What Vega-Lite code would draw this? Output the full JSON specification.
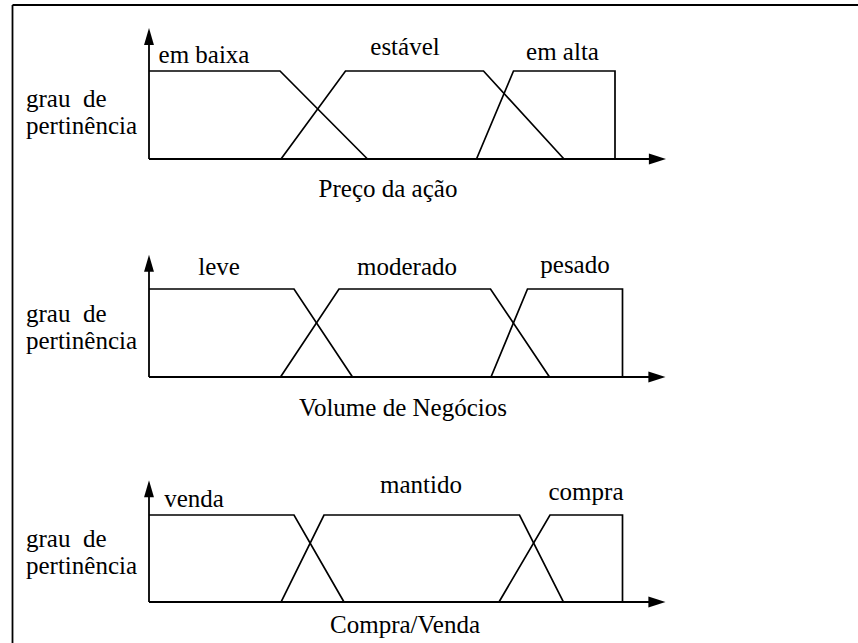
{
  "$schema": "https://vega.github.io/schema/vega-lite/v6.json",
  "padding": 0,
  "spacing": 0,
  "bounds": "flush",
  "background": "white",
  "config": {"view": {"stroke": null}, "concat": {"spacing": 0}},
  "datasets": {
    "mf": [
      {"panel": 1, "set": "em baixa", "i": 0, "x": 0, "mu": 1},
      {"panel": 1, "set": "em baixa", "i": 1, "x": 26.2, "mu": 1},
      {"panel": 1, "set": "em baixa", "i": 2, "x": 43.7, "mu": 0},
      {"panel": 1, "set": "estável", "i": 0, "x": 26.4, "mu": 0},
      {"panel": 1, "set": "estável", "i": 1, "x": 39.3, "mu": 1},
      {"panel": 1, "set": "estável", "i": 2, "x": 66.9, "mu": 1},
      {"panel": 1, "set": "estável", "i": 3, "x": 83, "mu": 0},
      {"panel": 1, "set": "em alta", "i": 0, "x": 65.5, "mu": 0},
      {"panel": 1, "set": "em alta", "i": 1, "x": 72.9, "mu": 1},
      {"panel": 1, "set": "em alta", "i": 2, "x": 93.2, "mu": 1},
      {"panel": 1, "set": "em alta", "i": 3, "x": 93.2, "mu": 0},
      {"panel": 2, "set": "leve", "i": 0, "x": 0, "mu": 1},
      {"panel": 2, "set": "leve", "i": 1, "x": 29, "mu": 1},
      {"panel": 2, "set": "leve", "i": 2, "x": 40.7, "mu": 0},
      {"panel": 2, "set": "moderado", "i": 0, "x": 26.3, "mu": 0},
      {"panel": 2, "set": "moderado", "i": 1, "x": 38, "mu": 1},
      {"panel": 2, "set": "moderado", "i": 2, "x": 68.3, "mu": 1},
      {"panel": 2, "set": "moderado", "i": 3, "x": 80.1, "mu": 0},
      {"panel": 2, "set": "pesado", "i": 0, "x": 68.4, "mu": 0},
      {"panel": 2, "set": "pesado", "i": 1, "x": 75.7, "mu": 1},
      {"panel": 2, "set": "pesado", "i": 2, "x": 94.7, "mu": 1},
      {"panel": 2, "set": "pesado", "i": 3, "x": 94.7, "mu": 0},
      {"panel": 3, "set": "venda", "i": 0, "x": 0, "mu": 1},
      {"panel": 3, "set": "venda", "i": 1, "x": 29, "mu": 1},
      {"panel": 3, "set": "venda", "i": 2, "x": 39, "mu": 0},
      {"panel": 3, "set": "mantido", "i": 0, "x": 26.4, "mu": 0},
      {"panel": 3, "set": "mantido", "i": 1, "x": 35, "mu": 1},
      {"panel": 3, "set": "mantido", "i": 2, "x": 74.1, "mu": 1},
      {"panel": 3, "set": "mantido", "i": 3, "x": 82.9, "mu": 0},
      {"panel": 3, "set": "compra", "i": 0, "x": 70, "mu": 0},
      {"panel": 3, "set": "compra", "i": 1, "x": 80.2, "mu": 1},
      {"panel": 3, "set": "compra", "i": 2, "x": 94.7, "mu": 1},
      {"panel": 3, "set": "compra", "i": 3, "x": 94.7, "mu": 0}
    ],
    "segs": [
      {"panel": 1, "x": 0, "mu": 0, "x2": 100, "mu2": 0},
      {"panel": 1, "x": 0, "mu": 0, "x2": 0, "mu2": 1.42},
      {"panel": 1, "x": -27.3, "mu": 1.75, "x2": -27.3, "mu2": -0.693},
      {"panel": 1, "x": -27.3, "mu": 1.75, "x2": 141.8, "mu2": 1.75},
      {"panel": 2, "x": 0, "mu": 0, "x2": 100, "mu2": 0},
      {"panel": 2, "x": 0, "mu": 0, "x2": 0, "mu2": 1.32},
      {"panel": 2, "x": -27.3, "mu": 1.784, "x2": -27.3, "mu2": -0.716},
      {"panel": 3, "x": 0, "mu": 0, "x2": 100, "mu2": 0},
      {"panel": 3, "x": 0, "mu": 0, "x2": 0, "mu2": 1.33},
      {"panel": 3, "x": -27.3, "mu": 1.862, "x2": -27.3, "mu2": -0.471}
    ],
    "arrows": [
      {"panel": 1, "dir": "right", "x": 103.4, "mu": 0},
      {"panel": 1, "dir": "up", "x": 0, "mu": 1.49},
      {"panel": 2, "dir": "right", "x": 103.3, "mu": 0},
      {"panel": 2, "dir": "up", "x": 0, "mu": 1.39},
      {"panel": 3, "dir": "right", "x": 103.3, "mu": 0},
      {"panel": 3, "dir": "up", "x": 0, "mu": 1.4}
    ],
    "labels": [
      {"panel": 1, "kind": "center", "text": "em baixa", "x": 11, "mu": 1.09},
      {"panel": 1, "kind": "center", "text": "estável", "x": 51.2, "mu": 1.18},
      {"panel": 1, "kind": "center", "text": "em alta", "x": 82.7, "mu": 1.125},
      {"panel": 1, "kind": "center", "text": "Preço da ação", "x": 47.8, "mu": -0.43},
      {"panel": 1, "kind": "left", "text": "grau\u00a0\u00a0de", "x": -24.6, "mu": 0.595},
      {"panel": 1, "kind": "left", "text": "pertinência", "x": -24.6, "mu": 0.285},
      {"panel": 2, "kind": "center", "text": "leve", "x": 14, "mu": 1.16},
      {"panel": 2, "kind": "center", "text": "moderado", "x": 51.6, "mu": 1.16},
      {"panel": 2, "kind": "center", "text": "pesado", "x": 85.2, "mu": 1.18},
      {"panel": 2, "kind": "center", "text": "Volume de Negócios", "x": 50.8, "mu": -0.44},
      {"panel": 2, "kind": "left", "text": "grau\u00a0\u00a0de", "x": -24.6, "mu": 0.625},
      {"panel": 2, "kind": "left", "text": "pertinência", "x": -24.6, "mu": 0.318},
      {"panel": 3, "kind": "center", "text": "venda", "x": 9, "mu": 1.09},
      {"panel": 3, "kind": "center", "text": "mantido", "x": 54.4, "mu": 1.25},
      {"panel": 3, "kind": "center", "text": "compra", "x": 87.4, "mu": 1.17},
      {"panel": 3, "kind": "center", "text": "Compra/Venda", "x": 51.2, "mu": -0.355},
      {"panel": 3, "kind": "left", "text": "grau\u00a0\u00a0de", "x": -24.6, "mu": 0.632},
      {"panel": 3, "kind": "left", "text": "pertinência", "x": -24.6, "mu": 0.322}
    ]
  },
  "vconcat": [
    {
      "width": 858, "height": 220,
      "encoding": {
        "x": {"field": "x", "type": "quantitative", "axis": null, "scale": {"domain": [-29.8, 141.8], "nice": false, "zero": false}},
        "y": {"field": "mu", "type": "quantitative", "axis": null, "scale": {"domain": [-0.693, 1.807], "nice": false, "zero": false}}
      },
      "layer": [
        {"data": {"name": "segs"}, "transform": [{"filter": "datum.panel == 1"}],
         "mark": {"type": "rule", "color": "black", "strokeWidth": 1.8},
         "encoding": {"x2": {"field": "x2"}, "y2": {"field": "mu2"}}},
        {"data": {"name": "mf"}, "transform": [{"filter": "datum.panel == 1"}],
         "mark": {"type": "line", "color": "black", "strokeWidth": 1.7},
         "encoding": {"detail": {"field": "set"}, "order": {"field": "i", "type": "quantitative"}}},
        {"data": {"name": "arrows"}, "transform": [{"filter": "datum.panel == 1"}],
         "mark": {"type": "point", "filled": true, "color": "black", "opacity": 1, "size": 324},
         "encoding": {"shape": {"field": "dir", "legend": null, "scale": {"domain": ["up", "right"], "range": ["M0,0L0.55,1.9L-0.55,1.9Z", "M0,0L-1.9,-0.6L-1.9,0.6Z"]}}}},
        {"data": {"name": "labels"}, "transform": [{"filter": "datum.panel == 1 && datum.kind == 'center'"}],
         "mark": {"type": "text", "font": "Liberation Serif", "fontSize": 25, "align": "center", "baseline": "alphabetic", "color": "black"},
         "encoding": {"text": {"field": "text"}}},
        {"data": {"name": "labels"}, "transform": [{"filter": "datum.panel == 1 && datum.kind == 'left'"}],
         "mark": {"type": "text", "font": "Liberation Serif", "fontSize": 25, "align": "left", "baseline": "alphabetic", "color": "black"},
         "encoding": {"text": {"field": "text"}}}
      ]
    },
    {
      "width": 858, "height": 220,
      "encoding": {
        "x": {"field": "x", "type": "quantitative", "axis": null, "scale": {"domain": [-29.8, 141.8], "nice": false, "zero": false}},
        "y": {"field": "mu", "type": "quantitative", "axis": null, "scale": {"domain": [-0.716, 1.784], "nice": false, "zero": false}}
      },
      "layer": [
        {"data": {"name": "segs"}, "transform": [{"filter": "datum.panel == 2"}],
         "mark": {"type": "rule", "color": "black", "strokeWidth": 1.8},
         "encoding": {"x2": {"field": "x2"}, "y2": {"field": "mu2"}}},
        {"data": {"name": "mf"}, "transform": [{"filter": "datum.panel == 2"}],
         "mark": {"type": "line", "color": "black", "strokeWidth": 1.7},
         "encoding": {"detail": {"field": "set"}, "order": {"field": "i", "type": "quantitative"}}},
        {"data": {"name": "arrows"}, "transform": [{"filter": "datum.panel == 2"}],
         "mark": {"type": "point", "filled": true, "color": "black", "opacity": 1, "size": 324},
         "encoding": {"shape": {"field": "dir", "legend": null, "scale": {"domain": ["up", "right"], "range": ["M0,0L0.55,1.9L-0.55,1.9Z", "M0,0L-1.9,-0.6L-1.9,0.6Z"]}}}},
        {"data": {"name": "labels"}, "transform": [{"filter": "datum.panel == 2 && datum.kind == 'center'"}],
         "mark": {"type": "text", "font": "Liberation Serif", "fontSize": 25, "align": "center", "baseline": "alphabetic", "color": "black"},
         "encoding": {"text": {"field": "text"}}},
        {"data": {"name": "labels"}, "transform": [{"filter": "datum.panel == 2 && datum.kind == 'left'"}],
         "mark": {"type": "text", "font": "Liberation Serif", "fontSize": 25, "align": "left", "baseline": "alphabetic", "color": "black"},
         "encoding": {"text": {"field": "text"}}}
      ]
    },
    {
      "width": 858, "height": 203,
      "encoding": {
        "x": {"field": "x", "type": "quantitative", "axis": null, "scale": {"domain": [-29.8, 141.8], "nice": false, "zero": false}},
        "y": {"field": "mu", "type": "quantitative", "axis": null, "scale": {"domain": [-0.471, 1.862], "nice": false, "zero": false}}
      },
      "layer": [
        {"data": {"name": "segs"}, "transform": [{"filter": "datum.panel == 3"}],
         "mark": {"type": "rule", "color": "black", "strokeWidth": 1.8},
         "encoding": {"x2": {"field": "x2"}, "y2": {"field": "mu2"}}},
        {"data": {"name": "mf"}, "transform": [{"filter": "datum.panel == 3"}],
         "mark": {"type": "line", "color": "black", "strokeWidth": 1.7},
         "encoding": {"detail": {"field": "set"}, "order": {"field": "i", "type": "quantitative"}}},
        {"data": {"name": "arrows"}, "transform": [{"filter": "datum.panel == 3"}],
         "mark": {"type": "point", "filled": true, "color": "black", "opacity": 1, "size": 324},
         "encoding": {"shape": {"field": "dir", "legend": null, "scale": {"domain": ["up", "right"], "range": ["M0,0L0.55,1.9L-0.55,1.9Z", "M0,0L-1.9,-0.6L-1.9,0.6Z"]}}}},
        {"data": {"name": "labels"}, "transform": [{"filter": "datum.panel == 3 && datum.kind == 'center'"}],
         "mark": {"type": "text", "font": "Liberation Serif", "fontSize": 25, "align": "center", "baseline": "alphabetic", "color": "black"},
         "encoding": {"text": {"field": "text"}}},
        {"data": {"name": "labels"}, "transform": [{"filter": "datum.panel == 3 && datum.kind == 'left'"}],
         "mark": {"type": "text", "font": "Liberation Serif", "fontSize": 25, "align": "left", "baseline": "alphabetic", "color": "black"},
         "encoding": {"text": {"field": "text"}}}
      ]
    }
  ]
}
